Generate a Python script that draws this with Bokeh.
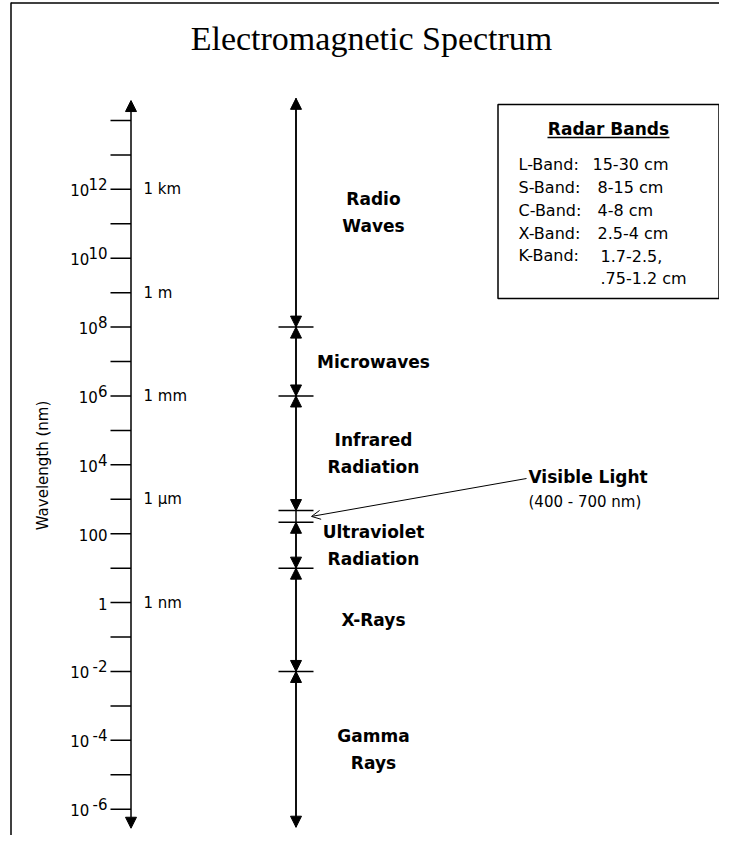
import math
from bokeh.plotting import figure
from bokeh.models import Range1d, ColumnDataSource, Arrow, NormalHead, OpenHead, BoxAnnotation
from bokeh.core.properties import value
from bokeh.embed import file_html
from bokeh.resources import INLINE

# ---------------- data ----------------
# wavelength axis (nm): a tick at every decade
tick_exponents = [14, 13, 12, 11, 10, 9, 8, 7, 6, 5, 4, 3, 2, 1, 0, -1, -2, -3, -4, -5, -6]
major_exponents = [12, 10, 8, 6, 4, 2, 0, -2, -4, -6]
major_base = ["10", "10", "10", "10", "10", "100", "1", "10", "10", "10"]
major_sup = ["12", "10", "8", "6", "4", "", "", "-2", "-4", "-6"]
unit_exponents = [12, 9, 6, 3, 0]
unit_labels = ["1 km", "1 m", "1 mm", "1 \u00b5m", "1 nm"]
axis_top_nm = 3.8e14
axis_bottom_nm = 2.8e-7

# spectrum bands (nm)
band_names = ["Radio\nWaves", "Microwaves", "Infrared\nRadiation", "Visible Light",
              "Ultraviolet\nRadiation", "X-Rays", "Gamma\nRays"]
band_upper_nm = [4.4e14, 1e8, 1e6, 470, 215, 10, 1e-2]
band_lower_nm = [1e8, 1e6, 470, 215, 10, 1e-2, 3.0e-7]
visible_note = "(400 - 700 nm)"

# radar bands
radar_names = ["L-Band:", "S-Band:", "C-Band:", "X-Band:", "K-Band:", ""]
radar_ranges = ["15-30 cm", "8-15 cm", "4-8 cm", "2.5-4 cm", "1.7-2.5,", ".75-1.2 cm"]

# ---------------- layout helpers ----------------
W, H = 719, 835
PX_DEC = 34.435          # pixels per decade
ROW14 = 120.0            # row of 10^14 nm
TOP, BOT = 0.0, float(H)


def page_y(row):
    """data value (nm) drawn at a given row (for decorative placement)"""
    return 10 ** (14 - (row - ROW14) / PX_DEC)


p = figure(width=W, height=H, x_range=Range1d(0, W),
           y_range=Range1d(page_y(BOT), page_y(TOP)), y_axis_type="log",
           x_axis_location=None, y_axis_location=None,
           output_backend="svg", toolbar_location=None, min_border=0)
p.grid.visible = False
p.outline_line_color = None
p.background_fill_color = "white"
p.border_fill_color = "white"

SANS = value("DejaVu Sans")
AXIS_X = 130.5
COL_X = 295.5

# frame lines
p.segment(x0=[10.5], x1=[10.5], y0=[page_y(2)], y1=[page_y(840)], line_color="black", line_width=1.5)
p.segment(x0=[10.5], x1=[W], y0=[page_y(2.5)], y1=[page_y(2.5)], line_color="black", line_width=1.5)

# title
p.text(x=[371], y=[page_y(38)], text=["Electromagnetic Spectrum"],
       text_font=value("Liberation Serif"), text_font_size="34px",
       text_align="center", text_baseline="middle", text_color="black")

# ---------- left wavelength axis ----------
ax_src = ColumnDataSource(dict(x0=[AXIS_X], y0=[axis_bottom_nm], x1=[AXIS_X], y1=[axis_top_nm]))
p.add_layout(Arrow(start=NormalHead(size=11, fill_color="black", line_color="black", line_width=1),
                   end=NormalHead(size=11, fill_color="black", line_color="black", line_width=1),
                   x_start="x0", y_start="y0", x_end="x1", y_end="y1", source=ax_src,
                   line_color="black", line_width=1.5))

tick_vals = [10.0 ** e for e in tick_exponents]
p.segment(x0=[110] * len(tick_vals), x1=[AXIS_X] * len(tick_vals), y0=tick_vals, y1=tick_vals,
          line_color="black", line_width=1.5)

major_vals = [10.0 ** e for e in major_exponents]
base_off = [-(1 + 8.6 * len(s)) if s else 0 for s in major_sup]
lab_src = ColumnDataSource(dict(y=major_vals, base=major_base, sup=major_sup, off=base_off))
p.text(x=107, y="y", text="base", x_offset="off", y_offset=1, source=lab_src, text_font=SANS,
       text_font_size="15px", text_align="right", text_baseline="middle", text_color="black")
p.text(x=107, y="y", text="sup", y_offset=-5, source=lab_src, text_font=SANS,
       text_font_size="15px", text_align="right", text_baseline="middle", text_color="black")

unit_src = ColumnDataSource(dict(y=[10.0 ** e for e in unit_exponents], t=unit_labels))
p.text(x=143, y="y", text="t", source=unit_src, text_font=SANS, text_font_size="15px",
       text_align="left", text_baseline="middle", text_color="black")

p.text(x=[42], y=[page_y(465)], text=["Wavelength (nm)"], angle=math.pi / 2,
       text_font=SANS, text_font_size="15px", text_align="center", text_baseline="middle",
       text_color="black")

# ---------- spectrum column ----------
p.segment(x0=[COL_X], x1=[COL_X], y0=[band_lower_nm[-1]], y1=[band_upper_nm[0]],
          line_color="black", line_width=1.5)
bounds = band_lower_nm[:-1]
p.segment(x0=[278] * len(bounds), x1=[313] * len(bounds), y0=bounds, y1=bounds,
          line_color="black", line_width=1.5)

arrow_idx = [i for i, n in enumerate(band_names) if n != "Visible Light"]
arr_src = ColumnDataSource(dict(x0=[COL_X] * len(arrow_idx),
                                y0=[band_lower_nm[i] for i in arrow_idx],
                                x1=[COL_X] * len(arrow_idx),
                                y1=[band_upper_nm[i] for i in arrow_idx]))
p.add_layout(Arrow(start=NormalHead(size=11, fill_color="black", line_color="black", line_width=1),
                   end=NormalHead(size=11, fill_color="black", line_color="black", line_width=1),
                   x_start="x0", y_start="y0", x_end="x1", y_end="y1", source=arr_src,
                   line_color="black", line_width=1.5))

lab_y = [math.sqrt(band_upper_nm[i] * band_lower_nm[i]) for i in arrow_idx]
band_src = ColumnDataSource(dict(y=lab_y, t=[band_names[i] for i in arrow_idx]))
p.text(x=373, y="y", text="t", source=band_src, text_font=SANS, text_font_style="bold",
       text_font_size="17px", text_align="center", text_baseline="middle",
       text_line_height=1.35, text_color="black")

# visible light pointer
vis = band_names.index("Visible Light")
vis_center = math.sqrt(band_upper_nm[vis] * band_lower_nm[vis])
vp_src = ColumnDataSource(dict(x0=[526], y0=[page_y(478)], x1=[311], y1=[vis_center]))
p.add_layout(Arrow(end=OpenHead(size=9, line_color="black", line_width=1),
                   x_start="x0", y_start="y0", x_end="x1", y_end="y1", source=vp_src,
                   line_color="black", line_width=1))
p.text(x=[528], y=[page_y(476)], text=[band_names[vis]], text_font=SANS, text_font_style="bold",
       text_font_size="17px", text_align="left", text_baseline="middle", text_color="black")
p.text(x=[528], y=[page_y(501)], text=[visible_note], text_font=SANS,
       text_font_size="15px", text_align="left", text_baseline="middle", text_color="black")

# ---------- radar bands box ----------
p.add_layout(BoxAnnotation(left=497.5, right=718.5, top=page_y(104), bottom=page_y(298),
                           fill_alpha=0, line_color="black", line_alpha=1, line_width=1.5))
p.text(x=[608], y=[page_y(128)], text=["Radar Bands"], text_font=SANS, text_font_style="bold",
       text_font_size="17px", text_align="center", text_baseline="middle", text_color="black")
p.segment(x0=[547], x1=[669], y0=[page_y(137)], y1=[page_y(137)], line_color="black", line_width=1.5)

rows = [page_y(164 + 22.85 * i) for i in range(len(radar_names))]
range_x = [592, 597, 597, 597, 600, 600]
rad_src = ColumnDataSource(dict(y=rows, n=radar_names, r=radar_ranges, rx=range_x))
p.text(x=518, y="y", text="n", source=rad_src, text_font=SANS, text_font_size="16px",
       text_align="left", text_baseline="middle", text_color="black")
p.text(x="rx", y="y", text="r", source=rad_src, text_font=SANS, text_font_size="16px",
       text_align="left", text_baseline="middle", text_color="black")

open("out.html", "w").write(file_html(p, INLINE))
